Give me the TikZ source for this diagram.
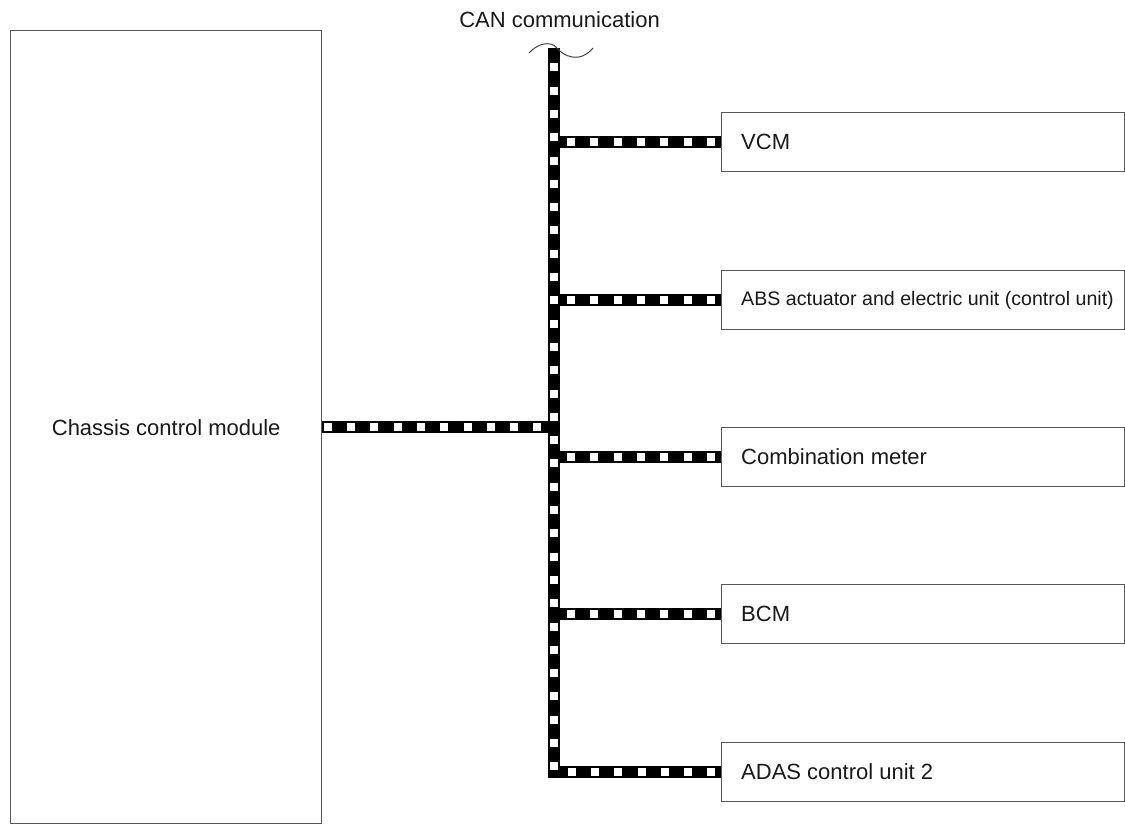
\documentclass[tikz,border=0pt]{standalone}
\usepackage{fontspec}
\setmainfont{Liberation Sans}
\begin{document}
\begin{tikzpicture}[x=1pt,y=-1pt,
  box/.style={draw=black!65, line width=1.4pt, fill=white, inner sep=0pt},
  lbl/.style={font=\fontsize{22}{26}\selectfont, text=black!90, inner sep=0pt},
  unitbox/.style={box, minimum width=403pt, minimum height=59pt, anchor=west},
  unitlbl/.style={lbl, anchor=west},
  can/.style={line width=11.5pt, draw=black, line join=miter,
    postaction={draw=white, line width=7.5pt, dash pattern=on 8pt off 15.3pt, dash phase=#1}},
  can/.default=16.3pt,
  brk/.style={draw=black!75, line width=1pt}
]
\useasboundingbox (0,0) rectangle (1125,825);

\node[box, lbl, minimum width=311pt, minimum height=793pt, anchor=north west] (ccm) at (10,30) {Chassis control module};

\node[unitbox] (vcm)  at (721,142) {};
\node[unitbox] (abs)  at (721,300) {};
\node[unitbox] (cm)   at (721,457) {};
\node[unitbox] (bcm)  at (721,614) {};
\node[unitbox] (adas) at (721,772) {};

\node[unitlbl] (vcmlbl)  at ([xshift=20pt]vcm.west)  {VCM};
\node[unitlbl, font=\fontsize{19.6}{23}\selectfont] (abslbl) at ([xshift=20pt]abs.west) {ABS actuator and electric unit (control unit)};
\node[unitlbl] (cmlbl)   at ([xshift=20pt]cm.west)   {Combination meter};
\node[unitlbl] (bcmlbl)  at ([xshift=20pt]bcm.west)  {BCM};
\node[unitlbl] (adaslbl) at ([xshift=20pt]adas.west) {ADAS control unit 2};

\node[lbl, anchor=east] (canlbl) at (660,20) {CAN communication};

\coordinate (bustop) at (554,48);
\coordinate (buscorner) at (554,772);

% branches
\draw[can] ([xshift=6pt]bustop |- vcm.west) -- (vcm.west);
\draw[can] ([xshift=6pt]bustop |- abs.west) -- (abs.west);
\draw[can] ([xshift=6pt]bustop |- cm.west) -- (cm.west);
\draw[can] ([xshift=6pt]bustop |- bcm.west) -- (bcm.west);
\draw[can=22pt] (ccm.east) -- ([xshift=-6pt]bustop |- ccm.east);

% main bus
\draw[can=8pt] (bustop) -- (buscorner) -- (adas.west);

% break mark
\draw[brk] (529,53) .. controls (537,44) and (550,40) .. (557,48)
  .. controls (563,56) and (580,64) .. (593,48);
\end{tikzpicture}
\end{document}
